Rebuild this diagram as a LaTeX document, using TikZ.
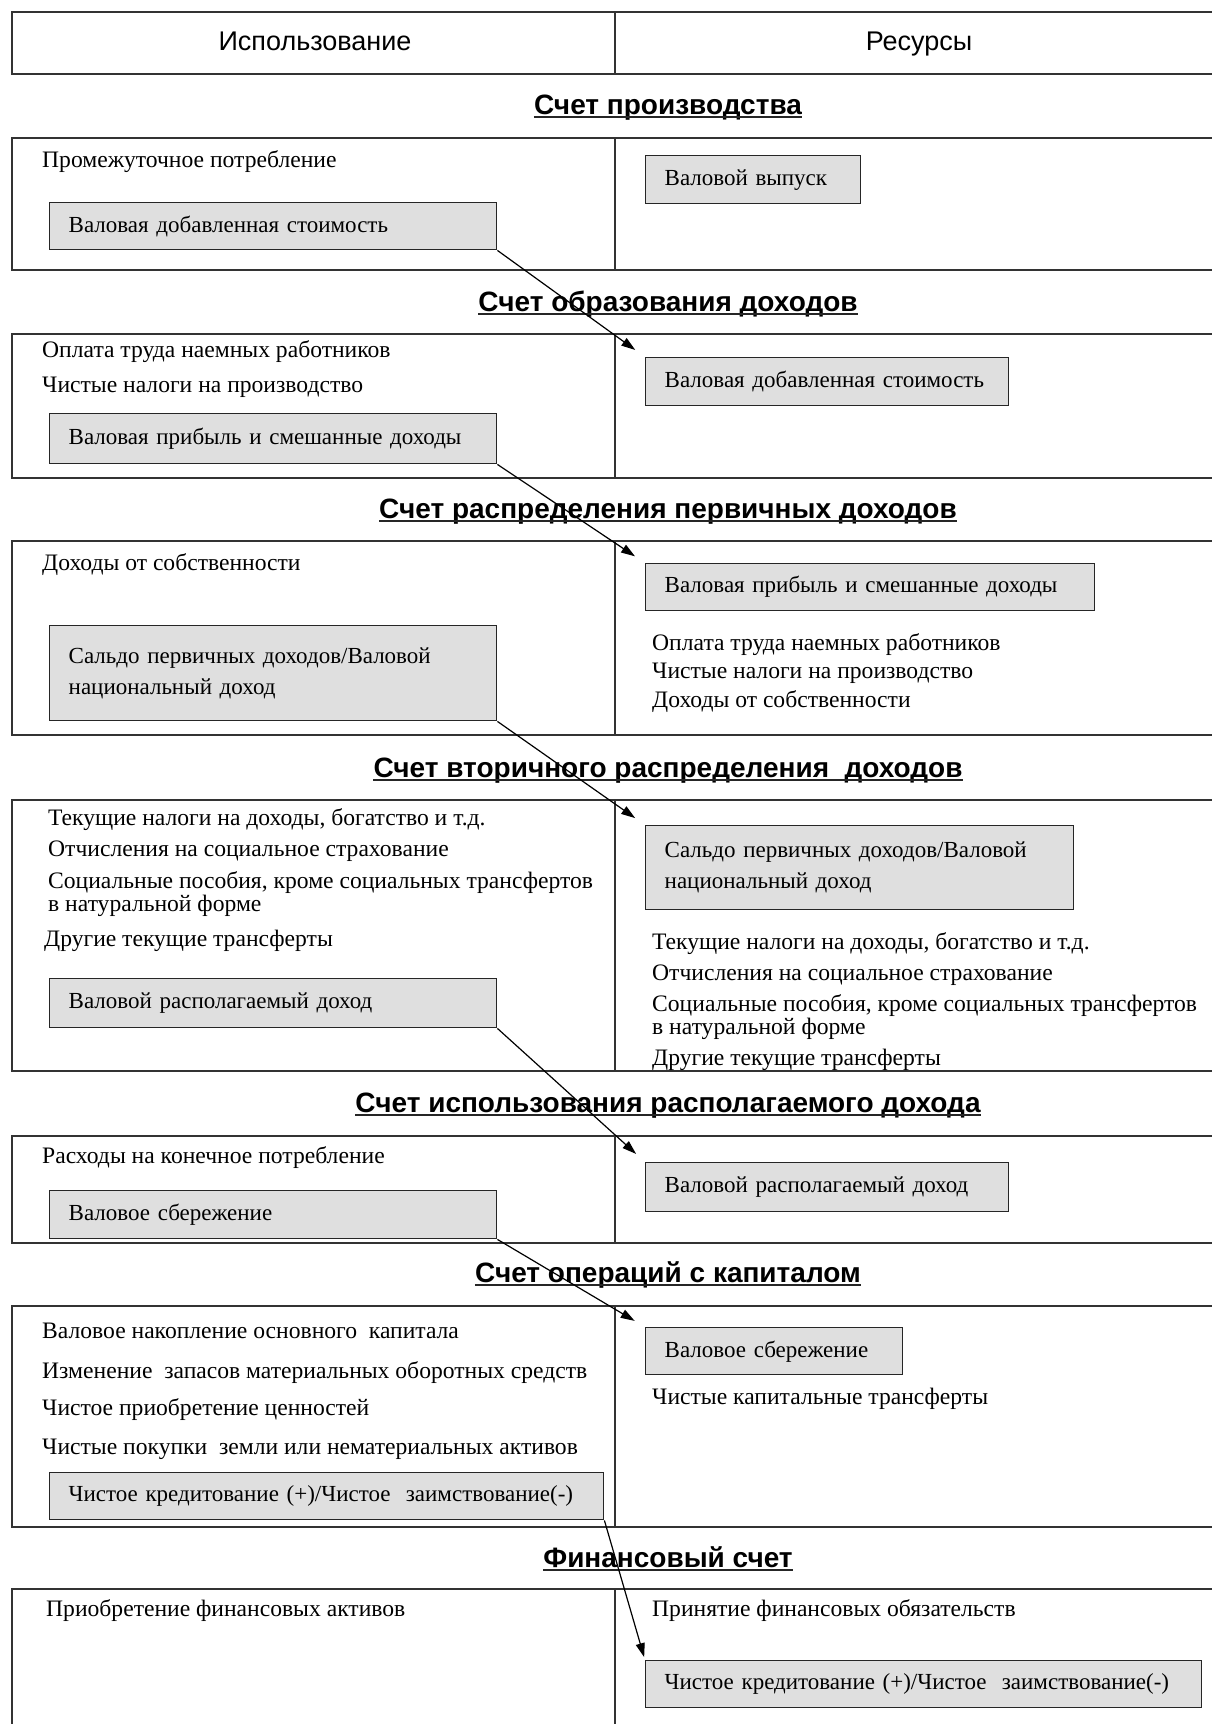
\documentclass[tikz,border=0pt]{standalone}
\usepackage{fontspec}
\setmainfont{Liberation Serif}
\newfontfamily\headfont{Liberation Sans}
\usetikzlibrary{positioning, arrows.meta, calc}

\begin{document}
\begin{tikzpicture}[
  x=1pt, y=-1pt,
  frame/.style={draw=black!80, line width=1.6pt},
  head/.style={anchor=base, font=\headfont\fontsize{27}{32}\selectfont},
  title/.style={anchor=south, font=\headfont\bfseries\fontsize{28}{32}\selectfont, inner sep=0, text depth=0.22em},
  uline/.style={line width=2.6pt, black!85},
  item/.style={anchor=west, inner sep=0, font=\fontsize{23.6}{23}\selectfont, align=left},
  acct/.style={anchor=north west, draw=black!85, line width=1.4pt, fill=gray!25, align=left, inner xsep=19pt, inner ysep=0, font=\fontsize{23}{31}\selectfont},
  link/.style={-{Triangle[length=14pt,width=9pt]}, line width=1.2pt, shorten >=12pt},
  ]
  \useasboundingbox (0,0) rectangle (1211,1724);

  % Tables
  \foreach \ya/\yb in {12/74, 138/270, 334/478, 541/735, 800/1071, 1136/1243, 1306/1527}
    \draw[frame] (1215,\ya) -- (12,\ya) -- (12,\yb) -- (1215,\yb) (615,\ya) -- (615,\yb);
  \draw[frame] (1215,1589) -- (12,1589) -- (12,1730) (615,1589) -- (615,1730);

  \node[head] (use) at (315,50) {Использование};
  \node[head] (res) at (919,50) {Ресурсы};

  % Account titles
  \foreach \name/\y/\txt in {
      prod/117/{Счет производства},
      gen/314/{Счет образования доходов},
      prim/521/{Счет распределения первичных доходов},
      sec/780/{Счет вторичного распределения \ доходов},
      disp/1115/{Счет использования располагаемого дохода},
      cap/1285/{Счет операций с капиталом},
      fin/1570/{Финансовый счет}} {
    \node[title] (\name) at (668,\y) {\txt};
    \draw[uline] (\name.south west) -- (\name.south east);
  }

  % Production account
  \node[item] (p1) at (42,162) {Промежуточное потребление};
  \node[acct, text width=409pt, minimum height=47pt] (pL) at (49,202) {Валовая добавленная стоимость};
  \node[acct, text width=177pt, minimum height=48pt] (pR) at (645,155) {\mbox{Валовой выпуск}};

  % Generation of income account
  \node[item] (g1) at (42,352) {Оплата труда наемных работников};
  \node[item] (g2) at (42,387) {Чистые налоги на производство};
  \node[acct, text width=409pt, minimum height=50pt] (gL) at (49,413) {Валовая прибыль и смешанные доходы};
  \node[acct, text width=325pt, minimum height=48pt] (gR) at (645,357) {\mbox{Валовая добавленная стоимость}};

  % Primary income account
  \node[item] (r1) at (42,565) {Доходы от собственности};
  \node[acct, text width=409pt, minimum height=95pt] (rL) at (49,625) {Сальдо первичных доходов/Валовой\\национальный доход};
  \node[acct, text width=411pt, minimum height=47pt] (rR) at (645,563) {\mbox{Валовая прибыль и смешанные доходы}};
  \node[item] (r2) at (652,645) {Оплата труда наемных работников};
  \node[item] (r3) at (652,673) {Чистые налоги на производство};
  \node[item] (r4) at (652,702) {Доходы от собственности};

  % Secondary distribution account
  \node[item] (s1) at (48,820) {Текущие налоги на доходы, богатство и т.д.};
  \node[item] (s2) at (48,851) {Отчисления на социальное страхование};
  \node[item] (s3) at (48,894) {Социальные пособия, кроме социальных трансфертов\\в натуральной форме};
  \node[item] (s4) at (44,941) {Другие текущие трансферты};
  \node[acct, text width=409pt, minimum height=49pt] (sL) at (49,978) {Валовой располагаемый доход};
  \node[acct, text width=390pt, minimum height=84pt] (sR) at (645,825) {Сальдо первичных доходов/Валовой\\национальный доход};
  \node[item] (s5) at (652,944) {Текущие налоги на доходы, богатство и т.д.};
  \node[item] (s6) at (652,975) {Отчисления на социальное страхование};
  \node[item] (s7) at (652,1017) {Социальные пособия, кроме социальных трансфертов\\в натуральной форме};
  \node[item] (s8) at (652,1060) {Другие текущие трансферты};

  % Use of disposable income account
  \node[item] (d1) at (42,1158) {Расходы на конечное потребление};
  \node[acct, text width=409pt, minimum height=48pt] (dL) at (49,1190) {Валовое сбережение};
  \node[acct, text width=325pt, minimum height=49pt] (dR) at (645,1162) {\mbox{Валовой располагаемый доход}};

  % Capital account
  \node[item] (c1) at (42,1331) {Валовое накопление основного \ капитала};
  \node[item] (c2) at (42,1373) {Изменение \ запасов материальных оборотных средств};
  \node[item] (c3) at (42,1410) {Чистое приобретение ценностей};
  \node[item] (c4) at (42,1449) {Чистые покупки \ земли или нематериальных активов};
  \node[acct, text width=516pt, minimum height=47pt] (cL) at (49,1472) {\mbox{Чистое кредитование (+)/Чистое \ заимствование(-)}};
  \node[acct, text width=219pt, minimum height=47pt] (cR) at (645,1327) {\mbox{Валовое сбережение}};
  \node[item] (c5) at (652,1399) {Чистые капитальные трансферты};

  % Financial account
  \node[item] (f1) at (46,1611) {Приобретение финансовых активов};
  \node[item] (f2) at (652,1611) {Принятие финансовых обязательств};
  \node[acct, text width=518pt, minimum height=47pt] (fR) at (645,1660) {\mbox{Чистое кредитование (+)/Чистое \ заимствование(-)}};

  % Balancing items carried to the next account
  \draw[link] (pL.south east) -- (gR.north west);
  \draw[link] (gL.south east) -- (rR.north west);
  \draw[link] (rL.south east) -- (sR.north west);
  \draw[link] (sL.south east) -- (dR.north west);
  \draw[link] (dL.south east) -- (cR.north west);
  \draw[link, shorten >=3pt] (cL.south east) -- (fR.north west);

\end{tikzpicture}
\end{document}
